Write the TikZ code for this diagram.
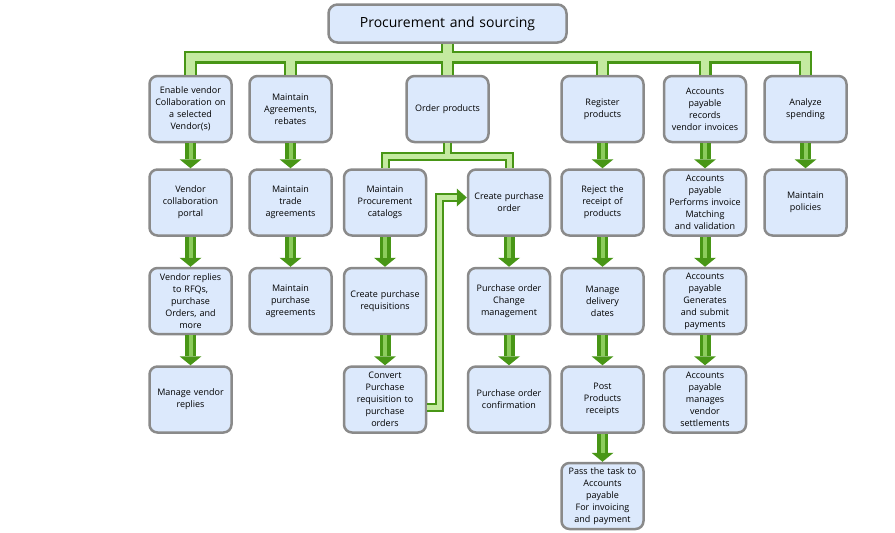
\documentclass[tikz,border=0pt]{standalone}
\usepackage{fontspec}
\setmainfont{Open Sans}
\usepackage{xcolor}
\usepackage{tikz}
\usetikzlibrary{arrows.meta}
\usetikzlibrary{calc}
\usetikzlibrary{positioning}
\definecolor{boxfill}{RGB}{220,233,252}
\definecolor{boxline}{RGB}{138,138,138}
\definecolor{gdark}{RGB}{72,150,22}
\definecolor{gmid}{RGB}{140,204,92}
\definecolor{glight}{RGB}{196,234,160}

\begin{document}
\begin{tikzpicture}[x=1pt,y=-1pt,node distance=30pt]
 				 \tikzstyle{box}=[draw=boxline, line width=2.5pt, fill=boxfill, rounded corners=8pt, minimum width=82pt, minimum height=66pt, text width=80pt, inner sep=1pt, align=center, font=\fontsize{9}{12}\selectfont]
 				 \tikzstyle{topbox}=[box, rounded corners=9pt, minimum width=238pt, minimum height=38pt, text width=230pt, font=\fontsize{14}{16}\selectfont]
 				 \tikzstyle{flow}=[color=gdark, line width=11pt, -{Triangle[width=22pt,length=9pt,line width=0pt,fill=gdark]}, postaction={draw=gmid, line width=4pt, -, shorten >=9pt}]
 				 \useasboundingbox (0,0) rectangle (895,533);
 				 \fill[white] (0,0) rectangle (895,533);
 					 \coordinate (bus) at (0,57);
 					 \coordinate (split) at (0,156);
 					 \node[topbox] (top) at (447.5,23.5) {Procurement and sourcing};
 					 \node[box] (en) at (190.5,109) {Enable vendor\\Collaboration on\\a selected\\Vendor(s)};
 					 \node[box] (agr) at (290.5,109) {Maintain\\Agreements,\\rebates};
 					 \node[box] (ord) at (447.5,109) {Order products};
 					 \node[box] (reg) at (602.5,109) {Register\\products};
 					 \node[box] (apr) at (705,109) {Accounts\\payable\\records\\vendor invoices};
 					 \node[box] (ana) at (805.5,109) {Analyze\\spending};
 					 \node[box] (port) [below=25pt of en] {Vendor\\collaboration\\portal};
 					 \node[box] (trade) [below=25pt of agr] {Maintain\\trade\\agreements};
 					 \node[box] (cat) at (385,202.5) {Maintain\\Procurement\\catalogs};
 					 \node[box] (cpo) at (509,202.5) {Create purchase\\order};
 					 \node[box] (rej) [below=25pt of reg] {Reject the\\receipt of\\products};
 					 \node[box] (apm) [below=25pt of apr] {Accounts\\payable\\Performs invoice\\Matching\\and validation};
 					 \node[box] (pol) [below=25pt of ana] {Maintain\\policies};
 					 \node[box] (repl) [below=of port] {Vendor replies\\to RFQs,\\purchase\\Orders, and\\more};
 					 \node[box] (pagr) [below=of trade] {Maintain\\purchase\\agreements};
 					 \node[box] (req) [below=of cat] {Create purchase\\requisitions};
 					 \node[box] (chg) [below=of cpo] {Purchase order\\Change\\management};
 					 \node[box] (del) [below=of rej] {Manage\\delivery\\dates};
 					 \node[box] (apg) [below=of apm] {Accounts\\payable\\Generates\\and submit\\payments};
 					 \node[box] (mvr) [below=of repl] {Manage vendor\\replies};
 					 \node[box] (conv) [below=of req] {Convert\\Purchase\\requisition to\\purchase\\orders};
 					 \node[box] (conf) [below=of chg] {Purchase order\\confirmation};
 					 \node[box] (post) [below=of del] {Post\\Products\\receipts};
 					 \node[box] (aps) [below=of apg] {Accounts\\payable\\manages\\vendor\\settlements};
 					 \node[box] (pass) [below=28pt of post] {Pass the task to\\Accounts\\payable\\For invoicing\\and payment};
				\foreach \w/\c in {13pt/gdark,8.5pt/glight}
				\draw[line width=\w, draw=\c]
				(top.south) -- (top.south |- bus)
				(en.north) -- (en.north |- bus) -- (ana.north |- bus) -- (ana.north)
				(agr.north) -- (agr.north |- bus)
				(ord.north) -- (ord.north |- bus)
				(reg.north) -- (reg.north |- bus)
				(apr.north) -- (apr.north |- bus);
				\foreach \w/\c in {9pt/gdark,5pt/glight}
				\draw[line width=\w, draw=\c]
				(ord.south) -- (ord.south |- split)
				(cat.north) -- (cat.north |- split) -- (cpo.north |- split) -- (cpo.north);
				\draw[color=gdark, line width=9pt, -{Triangle[width=18pt,length=10pt,line width=0pt,fill=gdark]}]
				($(conv.east)+(0,8)$) -- ++(12,0) |- ($(cpo.west)+(0,-5)$);
				\draw[draw=glight, line width=5pt, shorten >=10pt]
				($(conv.east)+(0,8)$) -- ++(12,0) |- ($(cpo.west)+(0,-5)$);
				\foreach \a/\b in {en/port,port/repl,repl/mvr,agr/trade,trade/pagr,cat/req,req/conv,cpo/chg,chg/conf,reg/rej,rej/del,del/post,post/pass,apr/apm,apm/apg,apg/aps,ana/pol}
				\draw[flow] (\a) -- (\b);
\end{tikzpicture}
\end{document}
